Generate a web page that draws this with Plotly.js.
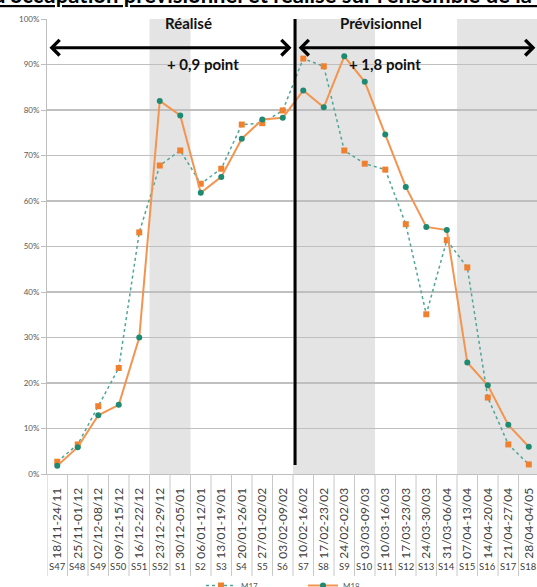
<!DOCTYPE html>
<html>
<head>
<meta charset="utf-8">
<script src="https://cdn.plot.ly/plotly-3.0.1.min.js"></script>
<style>
  html, body { margin: 0; padding: 0; background: #ffffff; overflow: hidden; }
  #chart { width: 537px; height: 587px; }
</style>
</head>
<body>
<div id="chart"></div>
<script>
// ---- Data ----
const dateLabels = ['18/11-24/11','25/11-01/12','02/12-08/12','09/12-15/12','16/12-22/12','23/12-29/12','30/12-05/01','06/01-12/01','13/01-19/01','20/01-26/01','27/01-02/02','03/02-09/02','10/02-16/02','17/02-23/02','24/02-02/03','03/03-09/03','10/03-16/03','17/03-23/03','24/03-30/03','31/03-06/04','07/04-13/04','14/04-20/04','21/04-27/04','28/04-04/05'];
const weekLabels = ['S47','S48','S49','S50','S51','S52','S1','S2','S3','S4','S5','S6','S7','S8','S9','S10','S11','S12','S13','S14','S15','S16','S17','S18'];
const m17 = [2.7, 6.5, 14.9, 23.3, 53.1, 67.8, 71.1, 63.8, 67.1, 76.8, 77.1, 79.9, 91.3, 89.6, 71.1, 68.2, 66.9, 54.9, 35.1, 51.4, 45.4, 16.8, 6.5, 2.1];
const m18 = [1.8, 5.9, 12.9, 15.2, 30.0, 82.0, 78.8, 61.8, 65.3, 73.7, 77.9, 78.3, 84.3, 80.6, 91.8, 86.2, 74.6, 63.1, 54.3, 53.6, 24.5, 19.5, 10.8, 6.0];
const seriesNames = ['M17', 'M18'];
const yTicks = [0, 10, 20, 30, 40, 50, 60, 70, 80, 90, 100];
const shadedWeeks = [['S52','S1'], ['S7','S10'], ['S15','S18']];
const periodLabels = ['Réalisé', 'Prévisionnel'];
const periodGains = ['+ 0,9 point', '+ 1,8 point'];
const titleText = "d'occupation prévisionnel et réalisé sur l'ensemble de la station";

// ---- Layout helpers (pixel geometry) ----
const W = 537, H = 587;
const M = { l: 47, r: 0, t: 19, b: 113 };
const plotH = H - M.t - M.b;
const py = p => (H - M.b - p) / plotH;       // pixel y -> paper y
const px = p => (p - M.l) / (W - M.l - M.r); // pixel x -> paper x
const xs = dateLabels.map((d, i) => i);
const FONT = 'Lato, "Open Sans", sans-serif';

const orange = '#F0802E', orangeLine = '#F39550';
const teal = '#1F8A72', tealLine = '#4FA596';

const traces = [
  {
    x: xs, y: m17, name: seriesNames[0], type: 'scatter', mode: 'lines+markers',
    line: { color: tealLine, width: 1.5, dash: 'dot' },
    marker: { color: orange, symbol: 'square', size: 6 }
  },
  {
    x: xs, y: m18, name: seriesNames[1], type: 'scatter', mode: 'lines+markers',
    line: { color: orangeLine, width: 2 },
    marker: { color: teal, symbol: 'circle', size: 6 }
  }
];

const shapes = [];
shadedWeeks.forEach(([a, b]) => {
  shapes.push({
    type: 'rect', layer: 'between', xref: 'x', yref: 'paper',
    x0: weekLabels.indexOf(a) - 0.5, x1: weekLabels.indexOf(b) + 0.5, y0: 0, y1: 1,
    fillcolor: '#E4E4E4', line: { width: 0 }
  });
});
// category separators below the axis
for (let i = 0; i <= dateLabels.length; i++) {
  shapes.push({
    type: 'line', xref: 'x', yref: 'paper',
    x0: i - 0.5, x1: i - 0.5, y0: 0, y1: py(576),
    line: { color: '#C8C8C8', width: 1 }
  });
}
// vertical split line between realised and forecast
const splitX = weekLabels.indexOf('S7') - 0.4;
shapes.push({
  type: 'line', xref: 'x', yref: 'y', x0: splitX, x1: splitX, y0: 2, y1: 100,
  line: { color: '#000000', width: 3 }
});

const arrowY = 93.7;
const annotations = [
  {
    xref: 'x', yref: 'y', axref: 'x', ayref: 'y',
    x: -0.38, y: arrowY, ax: splitX - 0.1, ay: arrowY, text: '',
    showarrow: true, arrowside: 'end+start', arrowhead: 4, startarrowhead: 4,
    arrowsize: 1, startarrowsize: 1, arrowwidth: 3, arrowcolor: '#000000',
    standoff: 0, startstandoff: 0
  },
  {
    xref: 'x', yref: 'y', axref: 'x', ayref: 'y',
    x: 23.32, y: arrowY, ax: splitX + 0.1, ay: arrowY, text: '',
    showarrow: true, arrowside: 'end+start', arrowhead: 4, startarrowhead: 4,
    arrowsize: 1, startarrowsize: 1, arrowwidth: 3, arrowcolor: '#000000',
    standoff: 0, startstandoff: 0
  },
  { xref: 'paper', yref: 'paper', x: px(163), y: py(23), yanchor: 'middle', text: '<b>' + periodLabels[0] + '</b>', showarrow: false, font: { family: FONT, size: 15, color: '#111' } },
  { xref: 'paper', yref: 'paper', x: px(424), y: py(23), yanchor: 'middle', text: '<b>' + periodLabels[1] + '</b>', showarrow: false, font: { family: FONT, size: 15, color: '#111' } },
  { xref: 'paper', yref: 'paper', x: px(165), y: py(64), yanchor: 'middle', text: '<b>' + periodGains[0] + '</b>', showarrow: false, font: { family: FONT, size: 15, color: '#111' } },
  { xref: 'paper', yref: 'paper', x: px(423), y: py(64), yanchor: 'middle', text: '<b>' + periodGains[1] + '</b>', showarrow: false, font: { family: FONT, size: 15, color: '#111' } },
  { xref: 'paper', yref: 'paper', x: px(-9), y: py(10), xanchor: 'left', yanchor: 'bottom', text: '<b><u>' + titleText + '</u></b>', showarrow: false, font: { family: FONT, size: 22, color: '#000' } }
];
weekLabels.forEach((s, i) => {
  annotations.push({
    xref: 'x', yref: 'paper', x: i, y: py(566), yanchor: 'middle', text: s, showarrow: false,
    font: { family: FONT, size: 9.5, color: '#404040' }
  });
});

const layout = {
  width: W, height: H,
  margin: { l: M.l, r: M.r, t: M.t, b: M.b, autoexpand: false },
  paper_bgcolor: '#ffffff', plot_bgcolor: '#ffffff',
  showlegend: true,
  legend: {
    orientation: 'h', x: px(201), xanchor: 'left', y: py(571), yanchor: 'top',
    font: { family: FONT, size: 8, color: '#595959' },
    entrywidth: 57, entrywidthmode: 'pixels', bgcolor: 'rgba(0,0,0,0)'
  },
  xaxis: {
    range: [-0.5, 23.4], tickvals: xs, ticktext: dateLabels, tickangle: -90,
    showgrid: false, zeroline: false, showline: true, linecolor: '#BFBFBF', linewidth: 1,
    ticks: '', ticklabelstandoff: 8,
    tickfont: { family: FONT, size: 12, color: '#404040' }
  },
  yaxis: {
    range: [0, 100], tickvals: yTicks, ticktext: yTicks.map(v => v + '%'),
    showgrid: true, gridcolor: '#BFBFBF', gridwidth: 1.5, zeroline: false,
    showline: true, linecolor: '#BFBFBF', linewidth: 1,
    ticks: 'outside', ticklen: 5, tickcolor: '#BFBFBF',
    tickfont: { family: FONT, size: 8, color: '#595959' }
  },
  shapes: shapes,
  annotations: annotations,
  font: { family: FONT }
};

Plotly.newPlot('chart', traces, layout, { staticPlot: true, displayModeBar: false });
</script>
</body>
</html>
